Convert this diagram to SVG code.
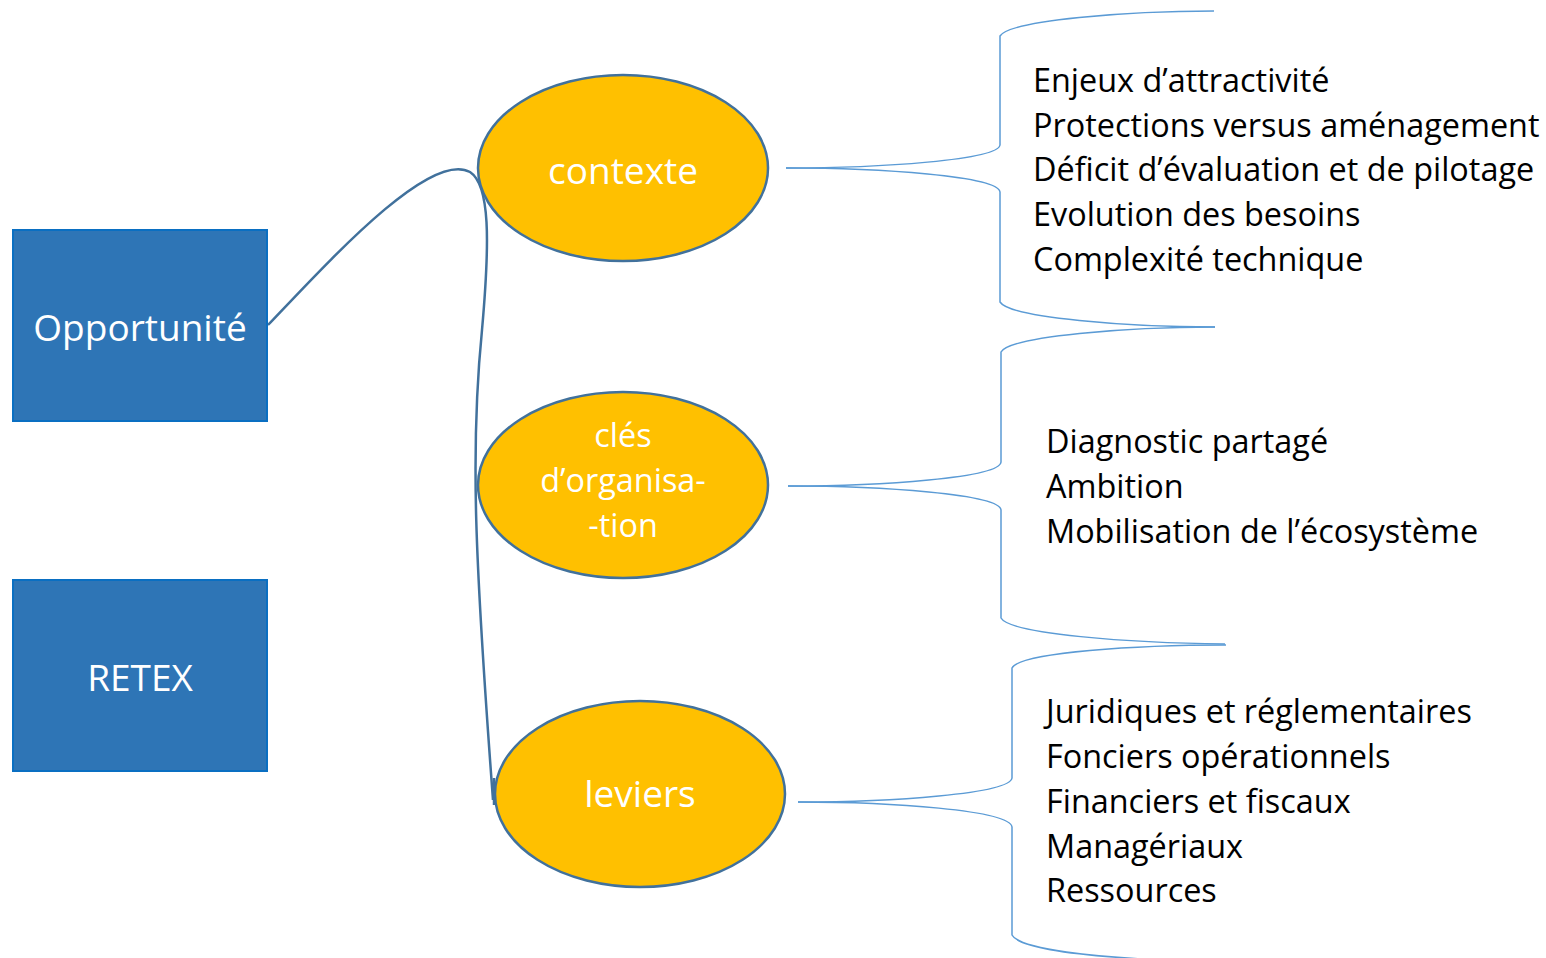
<svg xmlns="http://www.w3.org/2000/svg" width="1546" height="958" viewBox="0 0 1546 958">
<style>
.box{fill:#2E75B6;stroke:#0A6FC2;stroke-width:2}
.ell{fill:#FFC000;stroke:#41719C;stroke-width:2.5}
.wt{font-family:"Open Sans",Lato,sans-serif;font-size:37px;fill:#fff;text-anchor:middle;font-variant-ligatures:none}
.ws{font-size:32.4px}
.bt{font-family:"Open Sans",Lato,sans-serif;font-size:32.4px;fill:#000;font-variant-ligatures:none}
.br{fill:none;stroke:#5B9BD5;stroke-width:1.5}
.cn{fill:none;stroke:#41719C;stroke-width:2.5}
</style>
<rect width="1546" height="958" fill="#fff"/>
<g id="connectors">
<path class="cn" d="M268,325 C330,260 430,150 470,172 C490,185 490,240 482,330 C470,450 475,560 493,800"/>
<path class="cn" d="M494,778 L494,805"/>
<path class="br" d="M786,168 C880,168 998,160 1000,145 L1000,36 C1010,20 1130,11 1214,11"/>
<path class="br" d="M786,168 C880,168 998,176 1000,192 L1000,302 C1010,318 1130,327 1215,327"/>
<path class="br" d="M788,486 C880,486 1000,478 1001,462 L1001,352 C1010,336 1130,327 1215,327"/>
<path class="br" d="M788,486 C880,486 1000,494 1001,510 L1001,618 C1010,634 1130,643 1225,644"/>
<path class="br" d="M798,802 C890,802 1010,794 1012,778 L1012,668 C1020,652 1140,645 1226,645"/>
<path class="br" d="M798,802 C890,802 1010,810 1012,827 L1012,935 C1020,950 1100,957 1160,960"/>
</g>
<g id="opportunite">
<rect class="box" x="13" y="230" width="254" height="191"/>
<text class="wt" x="140" y="341">Opportunité</text>
</g>
<g id="retex">
<rect class="box" x="13" y="580" width="254" height="191"/>
<text class="wt" x="140" y="691">RETEX</text>
</g>
<g id="contexte">
<ellipse class="ell" cx="623" cy="168" rx="145" ry="93"/>
<text class="wt" x="623" y="184">contexte</text>
</g>
<g id="cles">
<ellipse class="ell" cx="623" cy="485" rx="145" ry="93"/>
<text class="wt ws" x="623" y="447">clés</text>
<text class="wt ws" x="623" y="492">d’organisa-</text>
<text class="wt ws" x="623" y="537">-tion</text>
</g>
<g id="leviers">
<ellipse class="ell" cx="640" cy="794" rx="145" ry="93"/>
<text class="wt" x="640" y="807">leviers</text>
</g>
<g id="liste-contexte">
<text class="bt" x="1033" y="92">Enjeux d’attractivité</text>
<text class="bt" x="1033" y="137">Protections versus aménagement</text>
<text class="bt" x="1033" y="181">Déficit d’évaluation et de pilotage</text>
<text class="bt" x="1033" y="226">Evolution des besoins</text>
<text class="bt" x="1033" y="271">Complexité technique</text>
</g>
<g id="liste-cles">
<text class="bt" x="1046" y="453">Diagnostic partagé</text>
<text class="bt" x="1046" y="498">Ambition</text>
<text class="bt" x="1046" y="543">Mobilisation de l’écosystème</text>
</g>
<g id="liste-leviers">
<text class="bt" x="1046" y="723">Juridiques et réglementaires</text>
<text class="bt" x="1046" y="768">Fonciers opérationnels</text>
<text class="bt" x="1046" y="813">Financiers et fiscaux</text>
<text class="bt" x="1046" y="858">Managériaux</text>
<text class="bt" x="1046" y="902">Ressources</text>
</g>
</svg>
